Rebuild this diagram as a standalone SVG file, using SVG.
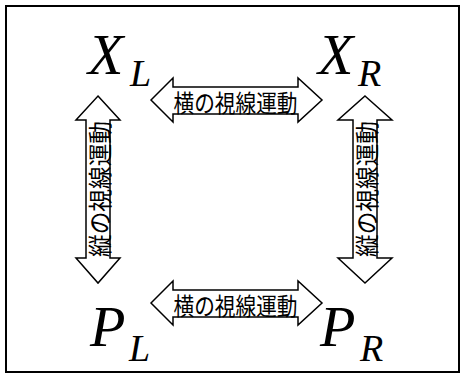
<svg xmlns="http://www.w3.org/2000/svg" width="461" height="373" viewBox="0 0 461 373">
<style>
.arr{fill:#fff;stroke:#000;stroke-width:1.5;stroke-linejoin:miter}
.jp{font-family:"Noto Sans CJK JP","Noto Sans CJK SC",sans-serif;font-size:24px;fill:#000}
.big{font-family:"Liberation Serif","Times New Roman",serif;font-style:italic;fill:#000}
</style>
<rect x="6" y="6" width="453" height="366" fill="#fff" stroke="#000" stroke-width="2"/>
<g id="XL"><text class="big" x="88" y="74" font-size="58">X</text><text class="big" x="130" y="86" font-size="38">L</text></g>
<g id="XR"><text class="big" x="318" y="74" font-size="58">X</text><text class="big" x="358" y="86" font-size="38">R</text></g>
<g id="PL"><text class="big" x="90" y="346" font-size="58">P</text><text class="big" x="129" y="361" font-size="38">L</text></g>
<g id="PR"><text class="big" x="320" y="346" font-size="58">P</text><text class="big" x="360" y="361" font-size="38">R</text></g>
<g id="connectors">
<g id="top">
<polygon class="arr" points="151,100 173,78 173,87 298,87 298,78 322,100 298,122 298,114 173,114 173,122"/>
<text class="jp" x="235.5" y="101" text-anchor="middle" dominant-baseline="central" textLength="124" lengthAdjust="spacingAndGlyphs">横の視線運動</text>
</g>
<g id="bottom">
<polygon class="arr" points="151,303 173,281 173,290 298,290 298,281 322,303 298,325 298,317 173,317 173,325"/>
<text class="jp" x="235.5" y="304" text-anchor="middle" dominant-baseline="central" textLength="124" lengthAdjust="spacingAndGlyphs">横の視線運動</text>
</g>
<g id="left">
<polygon class="arr" points="98,96 120,120 110,120 110,258 120,258 98,283 76,258 86,258 86,120 76,120"/>
<text class="jp" transform="translate(98,189) rotate(-90)" x="0" y="0" text-anchor="middle" dominant-baseline="central" textLength="136" lengthAdjust="spacingAndGlyphs">縦の視線運動</text>
</g>
<g id="right">
<polygon class="arr" points="365,96 392,120 377,120 377,258 392,258 365,283 338,258 353,258 353,120 338,120"/>
<text class="jp" transform="translate(365,189) rotate(-90)" x="0" y="0" text-anchor="middle" dominant-baseline="central" textLength="136" lengthAdjust="spacingAndGlyphs">縦の視線運動</text>
</g>
</g>
</svg>
